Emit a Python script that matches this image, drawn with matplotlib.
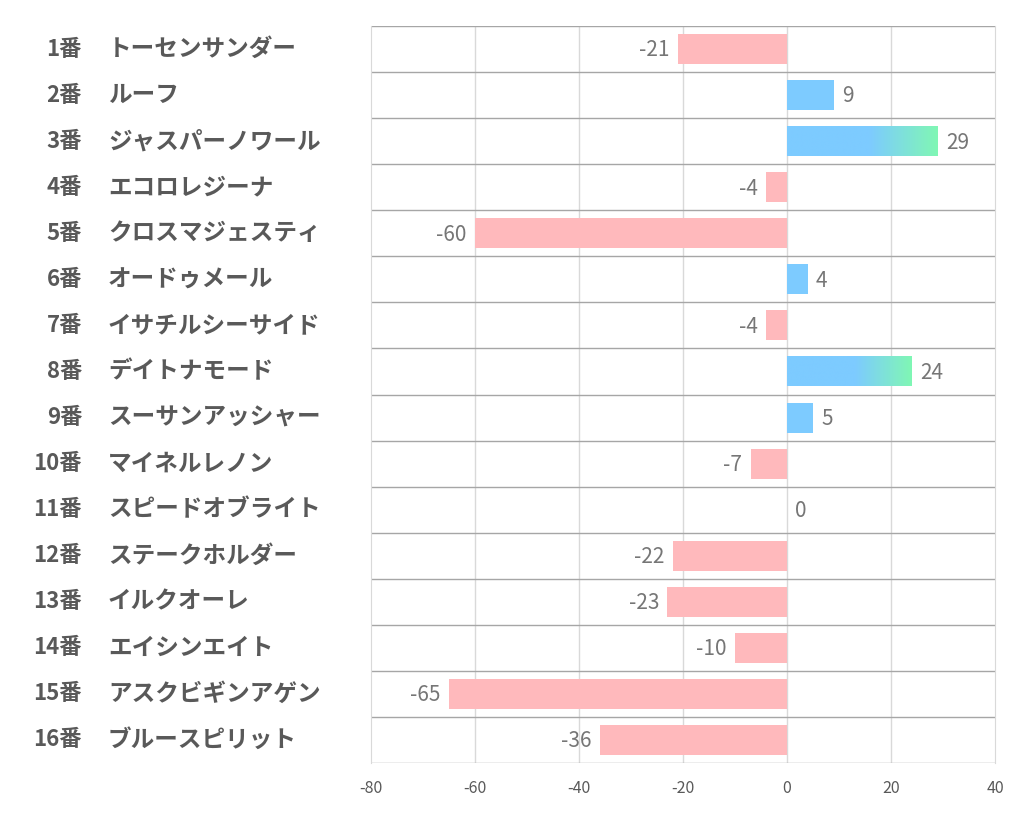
import numpy as np
import matplotlib.pyplot as plt
from matplotlib.colors import LinearSegmentedColormap

plt.rcParams['font.family'] = ['Noto Sans CJK JP', 'DejaVu Sans']

nums = ["1番", "2番", "3番", "4番", "5番", "6番", "7番", "8番",
        "9番", "10番", "11番", "12番", "13番", "14番", "15番", "16番"]
names = ["トーセンサンダー", "ルーフ", "ジャスパーノワール", "エコロレジーナ",
         "クロスマジェスティ", "オードゥメール", "イサチルシーサイド", "デイトナモード",
         "スーサンアッシャー", "マイネルレノン", "スピードオブライト", "ステークホルダー",
         "イルクオーレ", "エイシンエイト", "アスクビギンアゲン", "ブルースピリット"]
values = [-21, 9, 29, -4, -60, 4, -4, 24, 5, -7, 0, -22, -23, -10, -65, -36]
xticks = [-80, -60, -40, -20, 0, 20, 40]

pink = "#FFB9BC"
blue = "#7DCBFF"
green = "#80F7B4"
txt = "#595959"

fig = plt.figure(figsize=(10.22, 8.34), dpi=100)
ax = fig.add_axes([371 / 1022, 1 - 763 / 834, (995 - 371) / 1022, (763 - 26) / 834])

n = len(values)
h = 0.65
grad = LinearSegmentedColormap.from_list("g", [(0, blue), (0.55, blue), (1, green)])
for i, v in enumerate(values):
    if v < 0:
        ax.barh(i, v, height=h, color=pink, zorder=2)
    elif v > 0:
        if v >= 20:
            img = np.linspace(0, 1, 256).reshape(1, -1)
            ax.imshow(img, cmap=grad, aspect='auto', extent=[0, v, i + h / 2, i - h / 2],
                      zorder=2, interpolation='bilinear')
        else:
            ax.barh(i, v, height=h, color=blue, zorder=2)
    off = 1.6
    if v < 0:
        ax.text(v - off, i + 0.03, str(v), ha='right', va='center', fontsize=15, color="#767676")
    else:
        ax.text(v + off, i + 0.03, str(v), ha='left', va='center', fontsize=15, color="#767676")

ax.set_xlim(-80, 40)
ax.set_ylim(n - 0.5, -0.5)
ax.set_xticks(xticks)
ax.set_xticklabels([str(t) for t in xticks], fontsize=11.5, color=txt)
ax.set_yticks([])
for t in xticks[1:-1]:
    ax.axvline(t, color="#D9D9D9", lw=1, zorder=1)
for b in np.arange(-0.5, n, 1):
    ax.axhline(b, color="#A6A6A6", lw=1, zorder=1)
for s in ['top', 'bottom']:
    ax.spines[s].set_visible(False)
ax.spines['left'].set_color("#D9D9D9")
ax.spines['right'].set_color("#D9D9D9")
ax.tick_params(axis='x', length=0, pad=12)

for i in range(n):
    yy = 1 - (26 + (i + 0.5) * (763 - 26) / n) / 834
    fig.text(82 / 1022, yy, nums[i], ha='right', va='center', fontsize=16,
             fontweight='bold', color=txt)
    fig.text(108 / 1022, yy, names[i], ha='left', va='center', fontsize=17,
             fontweight='bold', color=txt)

fig.savefig("out.png", dpi=100)
